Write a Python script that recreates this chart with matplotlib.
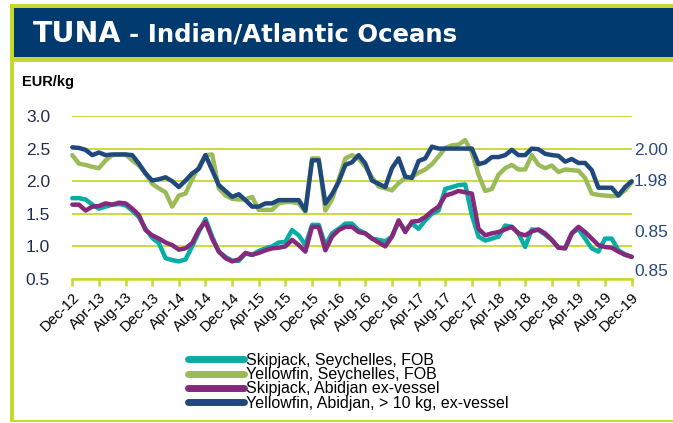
import matplotlib
matplotlib.use("Agg")
import matplotlib.pyplot as plt
from matplotlib.patches import Rectangle
from matplotlib.lines import Line2D
import numpy as np

# ---------------- data ----------------
tick_labels = ["Dec-12", "Apr-13", "Aug-13", "Dec-13", "Apr-14", "Aug-14", "Dec-14",
               "Apr-15", "Aug-15", "Dec-15", "Apr-16", "Aug-16", "Dec-16", "Apr-17",
               "Aug-17", "Dec-17", "Apr-18", "Aug-18", "Dec-18", "Apr-19", "Aug-19",
               "Dec-19"]

series_names = ["Skipjack, Seychelles, FOB",
                "Yellowfin, Seychelles, FOB",
                "Skipjack, Abidjan ex-vessel",
                "Yellowfin, Abidjan, > 10 kg, ex-vessel"]

skipjack_seychelles = [
    1.74, 1.74, 1.72, 1.64, 1.58, 1.61, 1.64, 1.65, 1.63, 1.55, 1.45, 1.27, 1.13, 1.05, 0.82, 0.79, 0.77, 0.80, 1.00, 1.22, 1.42, 1.15,
    0.92, 0.84, 0.78, 0.78, 0.89, 0.87, 0.93, 0.97, 1.00, 1.06, 1.07, 1.25, 1.17, 1.02, 1.33, 1.33, 1.02, 1.20, 1.27, 1.35, 1.35,
    1.25, 1.20, 1.12, 1.10, 1.08, 1.15, 1.38, 1.25, 1.35, 1.27, 1.40, 1.50, 1.55, 1.88, 1.91, 1.94, 1.95, 1.48, 1.15, 1.09, 1.12,
    1.15, 1.32, 1.30, 1.20, 0.99, 1.26, 1.25, 1.18, 1.10, 0.98, 0.97, 1.20, 1.27, 1.12, 0.97, 0.92, 1.12, 1.12, 0.94, 0.88, 0.84]

yellowfin_seychelles = [
    2.40, 2.27, 2.25, 2.22, 2.20, 2.32, 2.40, 2.41, 2.41, 2.32, 2.24, 2.12, 1.96, 1.89, 1.83, 1.61, 1.78, 1.81, 2.03, 2.22, 2.40, 2.41,
    1.89, 1.78, 1.73, 1.72, 1.72, 1.76, 1.56, 1.56, 1.56, 1.66, 1.68, 1.68, 1.66, 1.53, 2.35, 2.35, 1.55, 1.72, 2.03, 2.35, 2.40,
    2.35, 2.22, 2.06, 1.92, 1.89, 1.86, 1.97, 2.05, 2.07, 2.13, 2.18, 2.26, 2.38, 2.51, 2.55, 2.56, 2.63, 2.44, 2.10, 1.85, 1.88,
    2.10, 2.20, 2.25, 2.18, 2.18, 2.40, 2.25, 2.20, 2.24, 2.14, 2.18, 2.17, 2.16, 2.05, 1.81, 1.79, 1.78, 1.77, 1.78, 1.86, 1.98]

skipjack_abidjan = [
    1.64, 1.64, 1.55, 1.61, 1.62, 1.66, 1.64, 1.67, 1.66, 1.58, 1.48, 1.25, 1.17, 1.12, 1.06, 1.02, 0.95, 0.97, 1.05, 1.25, 1.38, 1.12,
    0.92, 0.82, 0.77, 0.80, 0.90, 0.87, 0.90, 0.94, 0.97, 0.98, 1.00, 1.10, 1.02, 0.92, 1.30, 1.30, 0.94, 1.15, 1.25, 1.30, 1.30,
    1.22, 1.20, 1.12, 1.06, 1.00, 1.15, 1.40, 1.22, 1.38, 1.39, 1.45, 1.54, 1.61, 1.78, 1.81, 1.85, 1.83, 1.81, 1.27, 1.17, 1.20,
    1.22, 1.26, 1.30, 1.20, 1.17, 1.23, 1.26, 1.20, 1.10, 0.98, 0.97, 1.20, 1.30, 1.22, 1.12, 1.02, 0.99, 0.98, 0.92, 0.87, 0.84]

yellowfin_abidjan = [
    2.52, 2.51, 2.48, 2.40, 2.44, 2.40, 2.41, 2.41, 2.41, 2.40, 2.27, 2.12, 2.01, 2.03, 2.06, 2.00, 1.91, 2.01, 2.12, 2.19, 2.40, 2.17,
    1.94, 1.85, 1.76, 1.80, 1.71, 1.61, 1.61, 1.66, 1.66, 1.71, 1.71, 1.71, 1.71, 1.55, 2.32, 2.32, 1.66, 1.80, 1.99, 2.25, 2.29,
    2.40, 2.27, 2.01, 1.96, 1.91, 2.20, 2.35, 2.07, 2.05, 2.31, 2.35, 2.53, 2.50, 2.50, 2.50, 2.50, 2.50, 2.50, 2.26, 2.29, 2.37,
    2.37, 2.40, 2.48, 2.40, 2.40, 2.50, 2.49, 2.42, 2.40, 2.39, 2.30, 2.34, 2.28, 2.28, 2.17, 1.90, 1.90, 1.90, 1.78, 1.91, 2.00]

right_labels = ["2.00", "1.98", "0.85", "0.85"]
y_ticks = [0.5, 1.0, 1.5, 2.0, 2.5, 3.0]

# ---------------- style ----------------
colors = ["#0aaca6", "#9bbb59", "#85297d", "#1f497d"]
navy = "#003a6e"
lime = "#c6d92e"
W, H = 673, 423

fig = plt.figure(figsize=(W / 100, H / 100), dpi=100)
fig.patch.set_facecolor("white")

def px_rect(x0, y0, x1, y1, color):
    # pixel coordinates from top-left
    fig.add_artist(Rectangle((x0 / W, 1 - y1 / H), (x1 - x0) / W, (y1 - y0) / H,
                             transform=fig.transFigure, facecolor=color,
                             edgecolor="none", zorder=0))

# frame
px_rect(10, 4, W, 8, lime)
px_rect(10, 8, W, 57, navy)
px_rect(10, 57, W, 62, lime)
px_rect(10, 4, 13.5, 422, lime)
px_rect(10, 419.5, W, 422, lime)

fig.text(33 / W, 1 - 34 / H, "TUNA", color="white", fontsize=20.5, fontweight="bold",
         family="DejaVu Sans", va="center", ha="left")
fig.text(129 / W, 1 - 35 / H, "- Indian/Atlantic Oceans", color="white", fontsize=17.6,
         fontweight="bold", family="DejaVu Sans", va="center", ha="left")
fig.text(22 / W, 1 - 82 / H, "EUR/kg", color="black", fontsize=10.5, fontweight="bold",
         family="Liberation Sans", va="center", ha="left")

left, right, top, bottom = 72.3, 631.7, 116, 279
ax = fig.add_axes([left / W, 1 - bottom / H, (right - left) / W, (bottom - top) / H])
ax.set_facecolor("none")

months = np.arange(len(yellowfin_abidjan))
order = [1, 3, 0, 2]
data = [skipjack_seychelles, yellowfin_seychelles, skipjack_abidjan, yellowfin_abidjan]
for k in order:
    ax.plot(months, data[k], color=colors[k], lw=3.2, solid_joinstyle="round",
            solid_capstyle="round", zorder=3 + k, clip_on=False)

ax.set_xlim(0, 84)
ax.set_ylim(0.5, 3.0)
ax.set_yticks(y_ticks)
ax.set_yticklabels([f"{v:.1f}" for v in y_ticks])
ax.set_xticks(np.arange(0, 85, 4))
ax.set_xticklabels(tick_labels, rotation=45, ha="right", rotation_mode="anchor",
                   fontsize=10.8, family="Liberation Sans")
ax.tick_params(axis="x", length=5, width=1.8, color=lime, pad=3)
ax.tick_params(axis="y", length=0, pad=16, labelsize=12.5, labelcolor="#1f2d4f")
for lab in ax.get_yticklabels():
    lab.set_family("Liberation Sans")
ax.grid(axis="y", color=lime, lw=1.3, zorder=1)
for s in ["left", "right", "top"]:
    ax.spines[s].set_visible(False)
ax.spines["bottom"].set_color(lime)
ax.spines["bottom"].set_linewidth(1.8)

# right-hand value labels
label_px_y = [150, 181, 232, 271]
for txt, py in zip(right_labels, label_px_y):
    fig.text(634 / W, 1 - py / H, txt, color="#2b4a7e", fontsize=12.5,
             family="Liberation Sans", va="center", ha="left")

handles = [Line2D([0], [0], color=c, lw=5, solid_capstyle="round") for c in colors]
leg = fig.legend(handles, series_names, loc="upper left",
                 bbox_to_anchor=(188 / W, 1 - 353 / H), frameon=False,
                 prop={"family": "Liberation Sans", "size": 11.5},
                 handlelength=3.5, handletextpad=0.15, labelspacing=-0.05,
                 borderpad=0, borderaxespad=0)

fig.savefig("out.png", dpi=100, facecolor="white")
